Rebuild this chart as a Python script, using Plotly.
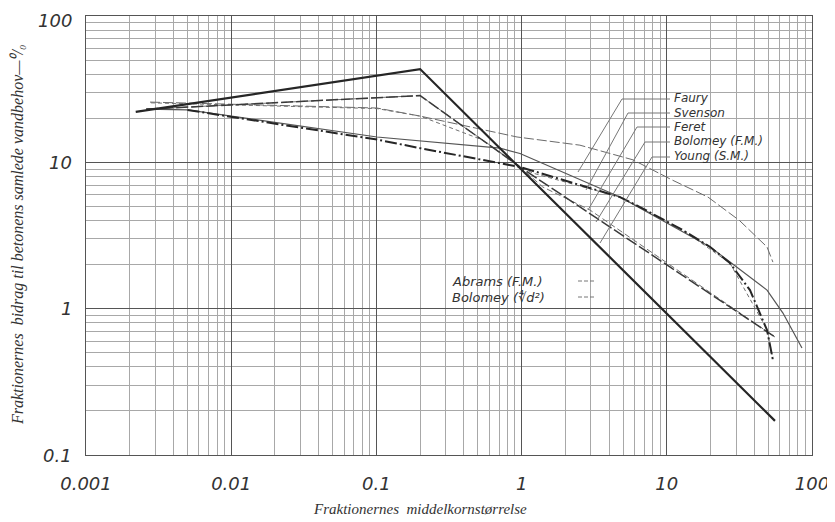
import math
import plotly.graph_objects as go

# ---------------- data ----------------
bolomey_root_x = [0.0022, 0.2, 55.6]
bolomey_root_y = [22.1, 43.4, 0.171]

abrams_x = [0.0026, 0.2, 0.975, 55.6]
abrams_y = [23.1, 28.6, 9.29, 0.64]

faury_x = [0.00276, 0.101, 0.2, 0.93, 2.52, 5.85, 10.9, 19.2, 31.7, 49.0, 53.8]
faury_y = [25.8, 23.5, 20.7, 14.9, 13.1, 10.4, 7.57, 5.79, 4.0, 2.64, 2.08]

svenson_x = [0.0028, 0.101, 0.2, 0.54, 0.975, 1.19, 4.76, 12.9, 27.2, 49.0, 53.8]
svenson_y = [25.5, 23.3, 20.7, 14.2, 9.4, 8.45, 5.79, 3.44, 2.05, 0.72, 0.45]

feret_x = [0.0026, 0.2, 0.975, 1.4, 2.96, 55.6]
feret_y = [23.1, 28.6, 9.29, 6.78, 4.72, 0.64]

bolomey_fm_x = [0.005, 0.101, 0.2, 0.975, 4.76, 6.54, 12.9, 19.9, 27.2, 37.4, 49.0, 53.8]
bolomey_fm_y = [22.8, 14.3, 12.5, 9.29, 5.79, 4.95, 3.44, 2.64, 2.05, 1.34, 0.714, 0.446]

young_x = [0.0026, 0.005, 0.101, 0.71, 0.975, 4.76, 19.9, 30.4, 49.0, 63.1, 85.3]
young_y = [23.1, 22.8, 14.9, 12.5, 11.5, 5.79, 2.64, 1.92, 1.34, 0.933, 0.538]

x_tick_vals = [0.001, 0.01, 0.1, 1, 10, 100]
x_tick_text = ["0.001", "0.01", "0.1", "1", "10", "100"]
y_tick_vals = [0.1, 1, 10, 100]
y_tick_text = ["0.1", "1", "10", "100"]

labels_right = ["Faury", "Svenson", "Feret", "Bolomey (F.M.)", "Young (S.M.)"]
labels_left = ["Abrams (F.M.)", "Bolomey (∜d²)"]

# ---------------- figure ----------------
fig = go.Figure()

def add(xs, ys, color, width, dash):
    fig.add_trace(go.Scatter(x=xs, y=ys, mode="lines",
                             line=dict(color=color, width=width, dash=dash),
                             showlegend=False, hoverinfo="skip"))

add(faury_x, faury_y, "#6a6a6a", 1, "10px,3px")
add(svenson_x, svenson_y, "#707070", 1, "4px,3px")
add(feret_x, feret_y, "#707070", 1, "6px,3px")
add(young_x, young_y, "#555555", 1.2, "solid")
add(abrams_x, abrams_y, "#3a3a3a", 1.5, "12px,3px")
add(bolomey_fm_x, bolomey_fm_y, "#262626", 2, "12px,3px,2px,3px")
add(bolomey_root_x, bolomey_root_y, "#262626", 2.2, "solid")

minor_x = [m * 10 ** e for e in range(-3, 2) for m in range(2, 10)]
minor_y = [m * 10 ** e for e in range(-1, 2) for m in range(2, 10)]

tick_font = dict(family="DejaVu Sans", size=18, color="#333333")

common = dict(tickfont=tick_font, ticks="", ticklabelstandoff=12, automargin=False,
              showgrid=True, gridcolor="#555555", gridwidth=1.2,
              showline=True, mirror=True, linecolor="#555555", linewidth=1.2,
              zeroline=False)
fig.update_xaxes(type="log", range=[-3, 2], tickvals=x_tick_vals,
                 ticktext=["<i>%s</i>" % t for t in x_tick_text],
                 minor=dict(tickvals=minor_x, showgrid=True, gridcolor="#a8a8a8",
                            gridwidth=1, ticks=""), **common)
fig.update_yaxes(type="log", range=[-1, 2], tickvals=y_tick_vals,
                 showticklabels=False,
                 minor=dict(tickvals=minor_y, showgrid=True, gridcolor="#a8a8a8",
                            gridwidth=1, ticks=""), **common)

# page body has an 8px margin; compensate so the plot lands where the reference has it
OFF = 8
W, H = 835 - OFF, 522 - OFF
L, R, T, B = 86 - OFF, 23, 16 - OFF, 67
pw, ph = W - L - R, H - T - B

def px(x):
    return (x - OFF - L) / pw

def py(y):
    return (H - B - (y - OFF)) / ph

annotations = []
# y tick labels as text placed on the y axis scale (top one nudged so it is not clipped)
for v, t in zip(y_tick_vals, y_tick_text):
    annotations.append(dict(x=-12 / pw, y=math.log10(v), xref="paper", yref="y",
                            text="<i>%s</i>" % t, showarrow=False,
                            xanchor="right", yanchor="middle", font=tick_font,
                            yshift=-4 if v == max(y_tick_vals) else 0))

label_font = dict(family="DejaVu Sans", size=12, color="#333333")
right_rows = [98, 113, 127, 141, 156]
knees = [(622, 99), (628, 113), (637, 127), (645, 142), (652, 157)]
ends = [(578, 172), (586, 190), (588, 210), (596, 222), (600, 243)]
shapes = []
for lab, yy, (kx, ky), (ex, ey) in zip(labels_right, right_rows, knees, ends):
    annotations.append(dict(x=px(672), y=py(yy), xref="paper", yref="paper",
                            text="<i>%s</i>" % lab, showarrow=False,
                            xanchor="left", yanchor="middle", font=label_font))
    shapes.append(dict(type="line", xref="paper", yref="paper",
                       x0=px(670), y0=py(ky), x1=px(kx), y1=py(ky),
                       line=dict(color="#777777", width=1)))
    shapes.append(dict(type="line", xref="paper", yref="paper",
                       x0=px(kx), y0=py(ky), x1=px(ex), y1=py(ey),
                       line=dict(color="#777777", width=1)))

for lab, yy in zip(labels_left, [281, 297]):
    annotations.append(dict(x=px(450), y=py(yy), xref="paper", yref="paper",
                            text="<i>%s</i>" % lab, showarrow=False,
                            xanchor="left", yanchor="middle",
                            font=dict(family="DejaVu Sans", size=13, color="#333333")))
    shapes.append(dict(type="line", xref="paper", yref="paper",
                       x0=px(578), y0=py(yy), x1=px(596), y1=py(yy),
                       line=dict(color="#777777", width=1, dash="4px,2px")))

annotations.append(dict(x=px(420), y=py(509), xref="paper", yref="paper",
                        text="<i>Fraktionernes  middelkornstørrelse</i>",
                        showarrow=False,
                        font=dict(family="Liberation Serif", size=15, color="#333333"),
                        xanchor="center", yanchor="middle"))
annotations.append(dict(x=px(18), y=py(235), xref="paper", yref="paper",
                        text="<i>Fraktionernes  bidrag til betonens samlede vandbehov—⁰/₀</i>",
                        showarrow=False,
                        font=dict(family="Liberation Serif", size=16, color="#333333"),
                        textangle=-90, xanchor="center", yanchor="middle"))

fig.update_layout(width=W, height=H, margin=dict(l=L, r=R, t=T, b=B),
                  paper_bgcolor="white", plot_bgcolor="white",
                  annotations=annotations, shapes=shapes, showlegend=False)

fig.write_html("out.html")
